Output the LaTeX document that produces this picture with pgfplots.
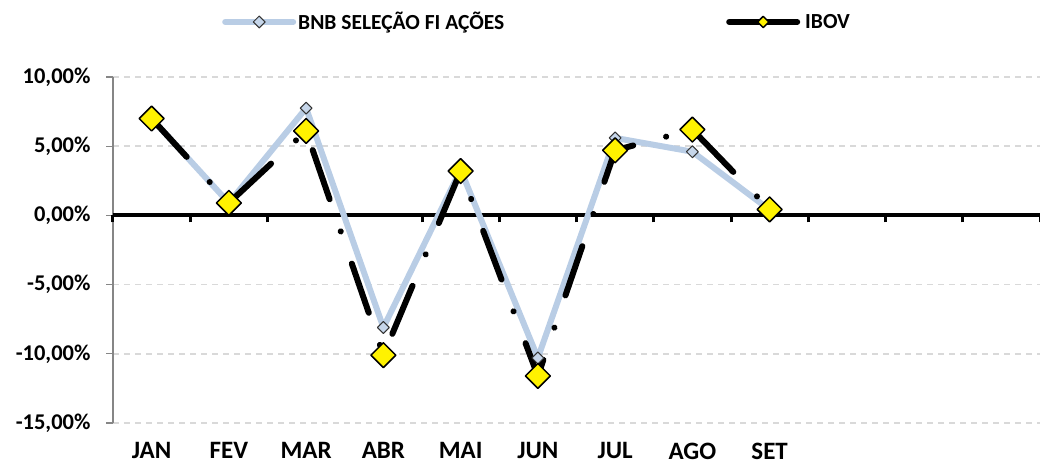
\documentclass[border=0pt]{standalone}
\usepackage{fontspec}
\setmainfont{Carlito}
\usepackage{pgfplots}
\pgfplotsset{compat=1.18}
\definecolor{bnbblue}{HTML}{B9CDE5}
\definecolor{bnbmark}{HTML}{C6D6EA}
\definecolor{gridgray}{HTML}{D9D9D9}
\definecolor{axisgray}{HTML}{868686}

\begin{document}
\begin{tikzpicture}
\useasboundingbox (-113pt,-45pt) rectangle (927pt,423pt);
% grid, y axis and labels
\begin{axis}[
  scale only axis, width=927pt, height=346pt,
  xmin=0.5, xmax=12.5, ymin=-15, ymax=10,
  axis x line*=bottom, axis y line*=left,
  x axis line style={draw=none},
  y axis line style={axisgray, line width=1.2pt, -},
  xtick={1,...,9},
  xticklabels={JAN,FEV,MAR,ABR,MAI,JUN,JUL,AGO,SET},
  major x tick style={draw=none},
  xticklabel style={anchor=north, inner sep=0pt, yshift=-12.5pt, font=\fontsize{25}{29}\selectfont\bfseries},
  ytick={-15,-10,...,10},
  yticklabels={{-15,00\%},{-10,00\%},{-5,00\%},{0,00\%},{5,00\%},{10,00\%}},
  y tick style={axisgray, line width=1.2pt},
  tick align=outside, major tick length=7pt,
  yticklabel style={anchor=east, xshift=-12pt, font=\fontsize{22.5}{26}\selectfont\bfseries},
  ymajorgrids,
  grid style={gridgray, line width=1.5pt, dash pattern=on 6pt off 5pt},
]
\end{axis}
% zero line and the two series
\begin{axis}[
  scale only axis, width=927pt, height=346pt,
  xmin=0.5, xmax=12.5, ymin=-15, ymax=10,
  axis x line=middle, axis y line=none,
  xtick={0.5,1.5,...,12.5}, xticklabels={},
  ytick=\empty,
  tick align=outside, major tick length=7pt,
  x tick style={black, line width=3pt},
  x axis line style={black, line width=4pt, -},
  legend style={at={(axis description cs:0.1176,1.159)}, anchor=west,
    draw=none, fill=none, inner sep=0pt, legend columns=2,
    font=\fontsize{21.5}{25}\selectfont\bfseries,
    /tikz/every even column/.append style={column sep=220pt}},
  legend image code/.code={%
    \draw[mark repeat=2,mark phase=2,#1,solid,line cap=round]
      plot coordinates {(0pt,0pt) (34pt,0pt) (68pt,0pt)};},
]
\addplot[bnbblue, line width=6pt, line join=round,
  mark=square*, mark size=4.2pt,
  mark options={rotate=45, fill=bnbmark, draw=black!80, line width=1pt, solid}]
  coordinates {(1,7.0) (2,0.9) (3,7.75) (4,-8.1) (5,3.3) (6,-10.3) (7,5.6) (8,4.6) (9,0.4)};
\addlegendentry{BNB SELEÇÃO FI AÇÕES}
\addplot[black, line width=6pt, line cap=round, line join=round,
  dash pattern=on 52pt off 34pt on 0.1pt off 34pt,
  mark=square*, mark size=8.8pt,
  mark options={rotate=45, fill=yellow, draw=black, line width=1.5pt, solid},
  legend image post style={mark size=4pt}]
  coordinates {(1,7.0) (2,0.9) (3,6.1) (4,-10.1) (5,3.2) (6,-11.6) (7,4.7) (8,6.2) (9,0.43)};
\addlegendentry{\hspace{3pt}IBOV}
\end{axis}
\end{tikzpicture}
\end{document}
